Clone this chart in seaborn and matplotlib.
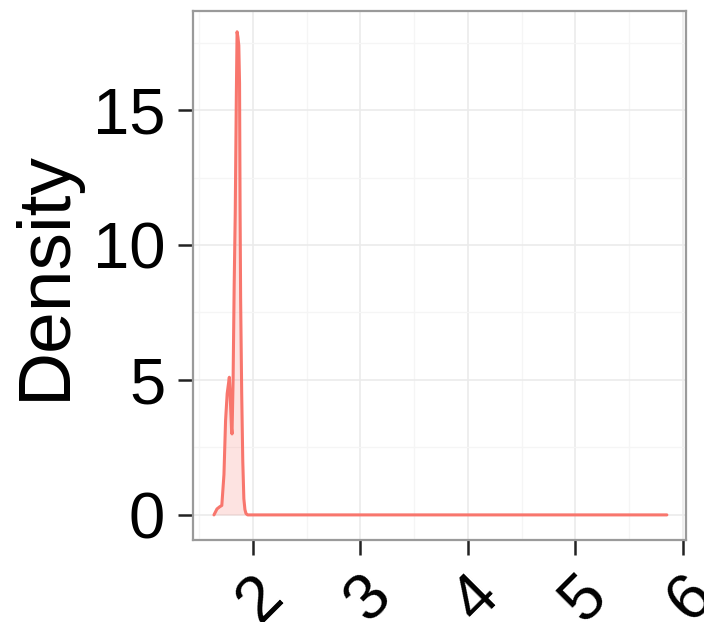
import numpy as np
import pandas as pd
import matplotlib
matplotlib.use("Agg")
import matplotlib.pyplot as plt
import matplotlib.transforms as mtransforms
import seaborn as sns

# Density curve
x_vals = [1.637, 1.665, 1.69, 1.71, 1.73, 1.745, 1.76, 1.78, 1.79, 1.80, 1.805,
          1.815, 1.825, 1.835, 1.845, 1.852, 1.86, 1.868, 1.875, 1.88, 1.885,
          1.895, 1.905, 1.915, 1.925, 1.935, 1.95, 2.0, 3.0, 4.0, 5.0, 5.85]
density = [0.0, 0.22, 0.3, 0.35, 1.5, 3.5, 4.5, 5.1, 4.2, 3.2, 3.0,
           5.0, 8.5, 11.2, 15.5, 17.9, 17.7, 17.4, 16.0, 11.3, 8.0,
           4.5, 2.0, 0.6, 0.2, 0.05, 0.0, 0.0, 0.0, 0.0, 0.0, 0.0]
x_ticks = [2, 3, 4, 5, 6]
y_ticks = [0, 5, 10, 15]
y_label = "Density"
line_color = "#F8766D"

df = pd.DataFrame({"x": x_vals, "density": density})

sns.set_theme(style="white")
plt.rcParams["font.family"] = ["Liberation Sans", "DejaVu Sans"]

fig = plt.figure(figsize=(7.04, 6.22), dpi=100)
ax = fig.add_axes([193 / 704, 1 - 540 / 622, (686 - 193) / 704, (540 - 11) / 622])

ax.fill_between(df["x"], df["density"], 0, color=line_color, alpha=0.2, linewidth=0, zorder=2)
sns.lineplot(data=df, x="x", y="density", ax=ax, color=line_color, linewidth=2.2,
             sort=False, zorder=3)

ax.set_xlim(1.442, 6.028)
ax.set_ylim(-0.93, 18.67)

ax.set_xticks(x_ticks)
ax.set_yticks(y_ticks)
ax.set_xticks([1.5, 2.5, 3.5, 4.5, 5.5], minor=True)
ax.set_yticks([2.5, 7.5, 12.5, 17.5], minor=True)
ax.set_xticklabels([str(t) for t in x_ticks])
ax.set_yticklabels([str(t) for t in y_ticks])

ax.grid(which="major", color="#EBEBEB", linewidth=1.2, zorder=0)
ax.grid(which="minor", color="#F5F5F5", linewidth=0.9, zorder=0)
ax.set_axisbelow(True)
ax.set_facecolor("white")

for s in ax.spines.values():
    s.set_color("#9A9A9A")
    s.set_linewidth(1.6)

ax.tick_params(axis="both", which="major", direction="out", length=11, width=1.8,
               color="#222222", labelcolor="black", labelsize=47, pad=9)
ax.tick_params(axis="both", which="minor", length=0)
ax.tick_params(axis="x", which="major", bottom=True, pad=7)
ax.tick_params(axis="y", which="major", left=True)

for lab in ax.get_xticklabels():
    lab.set_rotation(45)
    lab.set_ha("center")
    lab.set_va("top")
    lab.set_transform(lab.get_transform() + mtransforms.ScaledTranslation(0.08, 0, fig.dpi_scale_trans))

ax.set_xlabel("")
ax.set_ylabel(y_label, fontsize=54, color="black", labelpad=9)

fig.savefig("out.png", dpi=100)
